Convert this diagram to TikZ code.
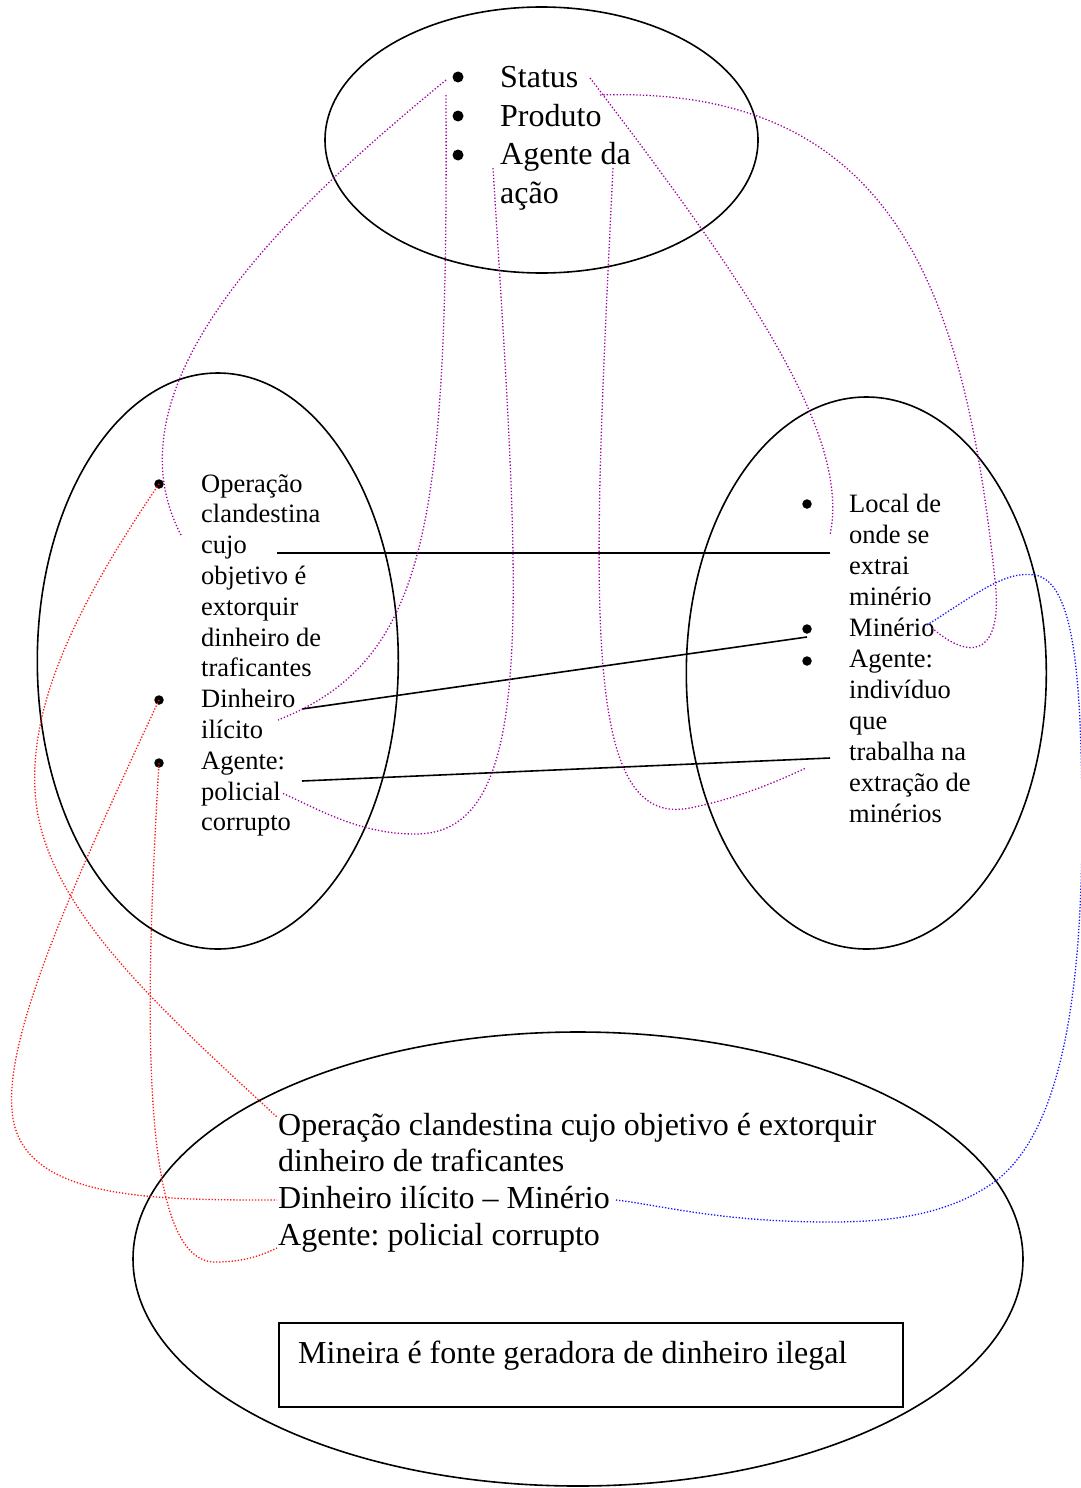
\documentclass[tikz,border=0pt]{standalone}
\usepackage{fontspec}
\setmainfont{Liberation Serif}
\usetikzlibrary{shapes.geometric}
\definecolor{linkpurple}{RGB}{160,0,160}
\definecolor{linkred}{RGB}{255,20,20}
\definecolor{linkblue}{RGB}{20,20,255}
\frenchspacing

\begin{document}
\begin{tikzpicture}[x=1pt,y=-1pt,
  oval/.style={draw, ellipse, line width=1.6pt, inner sep=0pt},
  bul/.style={circle, fill=black, inner sep=0pt, minimum size=#1},
  txt/.style={anchor=base west, inner sep=0pt},
  tie/.style={line width=1.6pt},
  plink/.style={draw=linkpurple, line width=1.3pt, dash pattern=on 1.3pt off 2pt},
  rlink/.style={draw=linkred, line width=1.3pt, dash pattern=on 1.3pt off 1.8pt},
  blink/.style={draw=linkblue, line width=1.3pt, dash pattern=on 1.3pt off 1.8pt}
]
\useasboundingbox (0,0) rectangle (1080,1488);

% the four groups
\node[oval, minimum width=433pt, minimum height=266pt] (topoval) at (541.5,140) {};
\node[oval, minimum width=361pt, minimum height=576pt] (leftoval) at (217.8,661) {};
\node[oval, minimum width=360pt, minimum height=552pt] (rightoval) at (866.3,673) {};
\node[oval, minimum width=890pt, minimum height=454pt] (bottomoval) at (578,1259) {};

% top list
\node[bul=11pt] (tb1) at (458,77) {};
\node[bul=11pt] (tb2) at (458,116) {};
\node[bul=11pt] (tb3) at (458,155) {};
\node[txt] (toplist) at (500,88) {\fontsize{32}{38.5}\selectfont
  \vtop{\hbox{Status}\hbox{Produto}\hbox{Agente da}\hbox{ação}}};

% left list
\node[bul=9.5pt] (lb1) at (159,484) {};
\node[bul=9.5pt] (lb2) at (159,700) {};
\node[bul=9.5pt] (lb3) at (159,763) {};
\node[txt] (leftlist) at (201,492) {\fontsize{26.5}{30.8}\selectfont
  \vtop{\hbox{Operação}\hbox{clandestina}\hbox{cujo}\hbox{objetivo é}\hbox{extorquir}
  \hbox{dinheiro de}\hbox{traficantes}\hbox{Dinheiro}\hbox{ilícito}\hbox{Agente:}
  \hbox{policial}\hbox{corrupto}}};

% right list
\node[bul=9.5pt] (rb1) at (807,504) {};
\node[bul=9.5pt] (rb2) at (807,629) {};
\node[bul=9.5pt] (rb3) at (807,661) {};
\node[txt] (rightlist) at (849,512) {\fontsize{26.5}{31}\selectfont
  \vtop{\hbox{Local de}\hbox{onde se}\hbox{extrai}\hbox{minério}\hbox{Minério}
  \hbox{Agente:}\hbox{indivíduo}\hbox{que}\hbox{trabalha na}\hbox{extração de}
  \hbox{minérios}}};

% bottom summary
\node[txt] (bottomlist) at (278,1135) {\fontsize{32}{36.7}\selectfont
  \vtop{\hbox{Operação clandestina cujo objetivo é extorquir}
  \hbox{dinheiro de traficantes}\hbox{Dinheiro ilícito – Minério}
  \hbox{Agente: policial corrupto}}};

\node[draw, line width=1.6pt, anchor=north west, inner sep=0pt,
  minimum width=624pt, minimum height=84pt] (conclusion) at (278,1322) {};
\node[txt] (conclusiontext) at (298,1363) {\fontsize{32}{36.7}\selectfont
  Mineira é fonte geradora de dinheiro ilegal};

% end points of the links
\coordinate (opL) at (277,553);   \coordinate (opR) at (830,553);
\coordinate (diL) at (302,709);   \coordinate (miL) at (807,637);
\coordinate (agL) at (302,781);   \coordinate (agR) at (830,758);

\coordinate (stA) at (446,80);    \coordinate (opA) at (181,535);
\coordinate (prA) at (446,95);    \coordinate (diA) at (278,720);
\coordinate (agA) at (493,168);   \coordinate (poA) at (282,793);
\coordinate (agB) at (613,168);   \coordinate (wkA) at (806,768);
\coordinate (stB) at (590,78);    \coordinate (loA) at (830,535);
\coordinate (stC) at (600,95);    \coordinate (miA) at (932,628);
\coordinate (miB) at (927,625);
\coordinate (boOp) at (277,1117); \coordinate (boDi) at (277,1200);
\coordinate (boAg) at (277,1248); \coordinate (boMi) at (616,1200);

% solid correspondences between the two lists
\draw[tie] (opL) -- (opR);
\draw[tie] (diL) -- (miL);
\draw[tie] (agL) -- (agR);

% purple links from the top list
\draw[plink] (stA) .. controls (300,200) and (100,380) .. (opA);
\draw[plink] (prA) .. controls (448,520) and (430,660) .. (diA);
\draw[plink] (agA) .. controls (520,600) and (540,835) .. (415,834)
  .. controls (360,834) and (320,810) .. (poA);
\draw[plink] (agB) .. controls (592,600) and (580,830) .. (690,808)
  .. controls (740,798) and (780,780) .. (wkA);
\draw[plink] (stB) .. controls (760,300) and (850,440) .. (loA);
\draw[plink] (stC) .. controls (900,85) and (965,300) .. (995,580)
  .. controls (1003,650) and (975,665) .. (miA);

% red links from the left bullets
\draw[rlink] (lb1.center) .. controls (80,600) and (30,700) .. (35,790)
  .. controls (40,900) and (150,1000) .. (boOp);
\draw[rlink] (lb2.center) .. controls (80,870) and (5,1030) .. (12,1110)
  .. controls (18,1200) and (150,1200) .. (boDi);
\draw[rlink] (lb3.center) .. controls (145,1000) and (138,1262) .. (215,1262)
  .. controls (245,1262) and (262,1255) .. (boAg);

% blue link from Minério
\draw[blink] (miB) .. controls (975,595) and (1005,570) .. (1035,575)
  .. controls (1075,582) and (1081,680) .. (1082,810)
  .. controls (1083,1000) and (1060,1130) .. (997,1180)
  .. controls (950,1215) and (890,1222) .. (830,1222)
  .. controls (720,1222) and (660,1205) .. (boMi);
\end{tikzpicture}
\end{document}
